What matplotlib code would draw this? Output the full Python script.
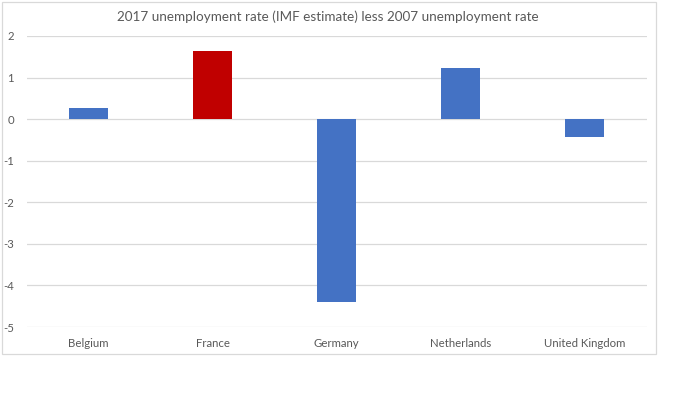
import matplotlib
matplotlib.use("Agg")
import matplotlib.pyplot as plt
from matplotlib.patches import Rectangle

countries = ["Belgium", "France", "Germany", "Netherlands", "United Kingdom"]
change = [0.26, 1.63, -4.40, 1.23, -0.43]
bar_colors = ["#4472C4", "#C00000", "#4472C4", "#4472C4", "#4472C4"]
yticks = [-5, -4, -3, -2, -1, 0, 1, 2]

plt.rcParams["font.family"] = ["Lato", "DejaVu Sans"]

fig = plt.figure(figsize=(7, 3.93), dpi=100)
ax = fig.add_axes([0.0381, 0.1679, 0.8858, 0.7405])

x = range(len(countries))
ax.bar(x, change, width=0.316, color=bar_colors, zorder=3)

ax.set_xlim(-0.5, len(countries) - 0.5)
ax.set_ylim(-5, 2)
ax.set_yticks(yticks)
ax.set_yticklabels([str(t) for t in yticks])
ax.set_xticks(list(x))
ax.set_xticklabels(countries)
ax.grid(axis="y", color="#d9d9d9", linewidth=0.9, zorder=0)
for s in ax.spines.values():
    s.set_visible(False)
ax.tick_params(length=0, labelsize=8.2, labelcolor="#595959")
ax.tick_params(axis="x", pad=8)
ax.tick_params(axis="y", pad=9)

fig.text(0.4686, 0.958, "2017 unemployment rate (IMF estimate) less 2007 unemployment rate",
         ha="center", va="center", fontsize=9.7, color="#595959")

# chart border
fig.patches.append(Rectangle((1.5 / 700, 39 / 393), 654 / 700, 352.5 / 393,
                             transform=fig.transFigure, fill=False,
                             edgecolor="#d9d9d9", linewidth=0.9))

fig.savefig("out.png", dpi=100)
